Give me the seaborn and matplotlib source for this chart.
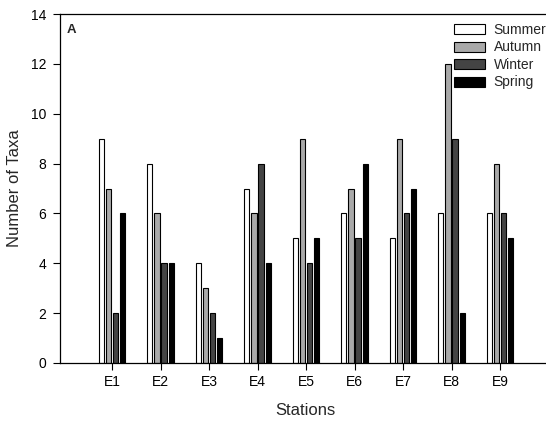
import matplotlib
matplotlib.use("Agg")
import matplotlib.pyplot as plt
import seaborn as sns
import pandas as pd
import numpy as np

stations = ["E1", "E2", "E3", "E4", "E5", "E6", "E7", "E8", "E9"]
seasons = ["Summer", "Autumn", "Winter", "Spring"]
summer = [9, 8, 4, 7, 5, 6, 5, 6, 6]
autumn = [7, 6, 3, 6, 9, 7, 9, 12, 8]
winter = [2, 4, 2, 8, 4, 5, 6, 9, 6]
spring = [6, 4, 1, 4, 5, 8, 7, 2, 5]
colors = ["#ffffff", "#a9a9a9", "#444444", "#000000"]

rows = []
for s, vals in zip(seasons, [summer, autumn, winter, spring]):
    for st, v in zip(stations, vals):
        rows.append({"Station": st, "Season": s, "Taxa": v})
df = pd.DataFrame(rows)

sns.set_theme(style="ticks")
plt.rcParams["font.family"] = ["Liberation Sans", "DejaVu Sans"]

W, H = 546, 421
fig = plt.figure(figsize=(W / 100, H / 100), dpi=100)
left, right, top, bottom = 60, 550, 14, 363
x0, pitch = 112, 48.5
ax = fig.add_axes([left / W, 1 - bottom / H, (right - left) / W, (bottom - top) / H])

sns.barplot(data=df, x="Station", y="Taxa", hue="Season", order=stations,
            hue_order=seasons, palette=colors, width=0.58, gap=0.28,
            edgecolor="black", linewidth=0.8, ax=ax, errorbar=None,
            saturation=1)

ax.set_xlim((left - x0) / pitch, (right - x0) / pitch)
ax.set_ylim(0, 14)
ax.set_yticks(np.arange(0, 15, 2))
ax.set_xlabel("Stations", fontsize=12, labelpad=10)
ax.set_ylabel("Number of Taxa", fontsize=12, labelpad=6)
ax.tick_params(axis="both", labelsize=10, length=5, width=0.8, direction="out", colors="black")
ax.tick_params(axis="x", pad=4)
ax.tick_params(axis="y", pad=5)
for sp in ["left", "bottom", "top"]:
    ax.spines[sp].set_linewidth(0.9)
    ax.spines[sp].set_color("black")
ax.spines["right"].set_visible(False)

ax.text((67 - left) / (right - left), 1 - (30 - top) / (bottom - top), "A",
        transform=ax.transAxes, fontsize=9.5, fontweight="bold", va="center", ha="left")

handles, labels = ax.get_legend_handles_labels()
leg = ax.legend(handles, labels, loc="upper left",
                bbox_to_anchor=((454 - left) / (right - left), 1 - (23 - top) / (bottom - top)),
                frameon=False, fontsize=10, handlelength=2.25, handleheight=0.72,
                labelspacing=0.25, handletextpad=0.6, borderaxespad=0, borderpad=0)

fig.savefig("out.png", dpi=100)
